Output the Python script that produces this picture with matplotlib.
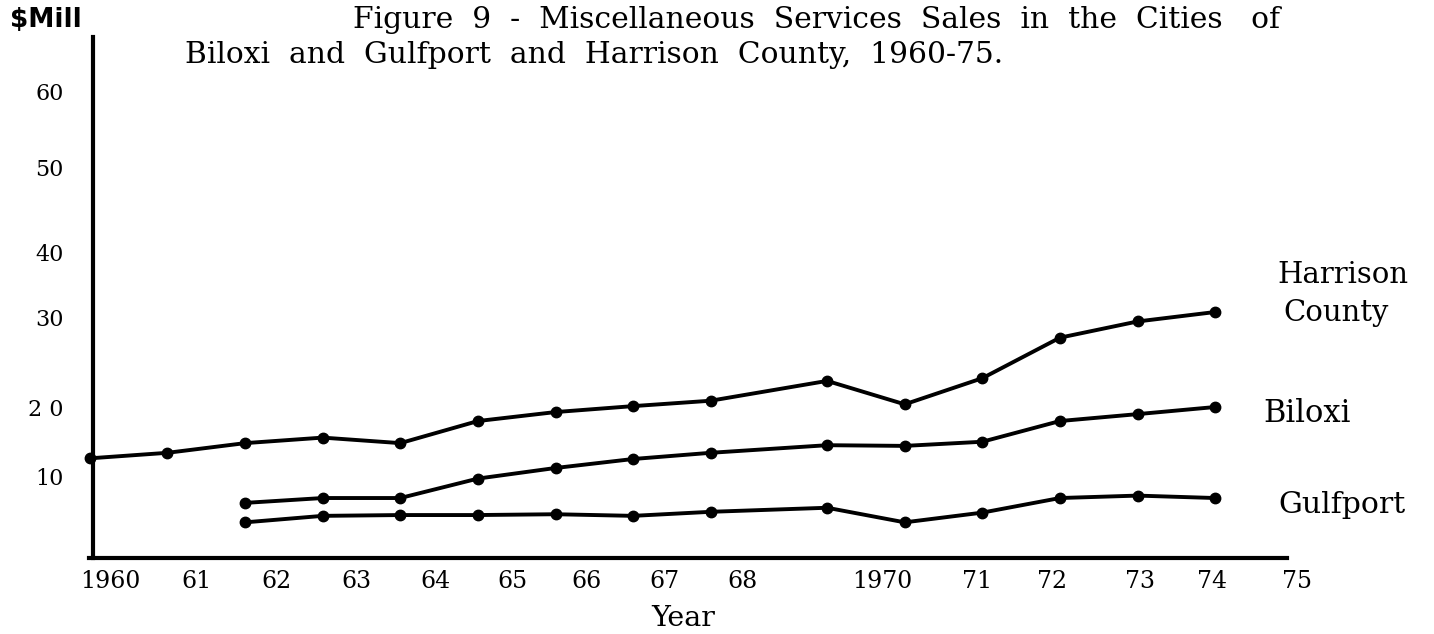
import matplotlib
matplotlib.use("Agg")
import matplotlib.pyplot as plt
import numpy as np

# data ($ millions)
anos_harrison = [1960, 1961, 1962, 1963, 1964, 1965, 1966, 1967, 1968, 1969, 1970, 1971, 1972, 1973, 1974]
harrison = [12.7, 13.5, 14.9, 15.7, 14.9, 18.1, 19.4, 20.2, 20.8, 23.0, 20.4, 23.3, 27.8, 29.6, 30.9]

anos_cidades = [1962, 1963, 1964, 1965, 1966, 1967, 1968, 1969, 1970, 1971, 1972, 1973, 1974]
biloxi = [6.8, 7.4, 7.4, 9.8, 11.3, 12.6, 13.5, 14.6, 14.5, 15.1, 18.1, 19.1, 20.1]
gulfport = [4.4, 5.2, 5.3, 5.3, 5.4, 5.2, 5.7, 6.2, 4.4, 5.6, 7.4, 7.7, 7.4]

rotulos_x = ['1960', '61', '62', '63', '64', '65', '66', '67', '68', '1970', '71', '72', '73', '74', '75']
pos_x = [1960.26, 1961.38, 1962.41, 1963.44, 1964.46, 1965.45, 1966.40, 1967.41, 1968.27,
         1969.71, 1970.93, 1971.90, 1973.03, 1973.96, 1975.05]

valores_y = [10, 20, 30, 40, 50, 60]
rotulos_y = ['10', '2 0', '30', '40', '50', '60']

# the hand drawn axis is not linear: spacing
grade_val = np.array([0, 10, 20, 30, 40, 50, 60, 70])
grade_pos = np.array([76, 157, 226, 316, 381, 466, 542, 618])


def y_ida(v):
    return np.interp(v, grade_val, grade_pos)


def y_volta(u):
    return np.interp(u, grade_pos, grade_val)


# the 1968-69 step is drawn 1.5 years wide
def x_ida(a):
    a = np.asarray(a, dtype=float)
    return a + 0.5 * np.clip(a - 1968, 0, 1)


def x_volta(u):
    u = np.asarray(u, dtype=float)
    return np.where(u <= 1968, u, np.where(u < 1969.5, 1968 + (u - 1968) / 1.5, u - 0.5))


W, H = 1434, 634
fig = plt.figure(figsize=(W / 100, H / 100), dpi=100)
fig.patch.set_facecolor('white')
ax = fig.add_axes([93 / W, 76 / H, (1316 - 93) / W, (597 - 76) / H])

ax.set_xscale('function', functions=(x_ida, x_volta))
ax.set_yscale('function', functions=(y_ida, y_volta))
ax.set_xlim(1960.04, 1975.3)
ax.set_ylim(0, 67.2)

estilo = dict(color='black', lw=2.8, marker='o', ms=7.5, clip_on=False, solid_joinstyle='round')
ax.plot(anos_harrison, harrison, **estilo)
ax.plot(anos_cidades, biloxi, **estilo)
ax.plot(anos_cidades, gulfport, **estilo)

ax.spines['top'].set_visible(False)
ax.spines['right'].set_visible(False)
ax.spines['left'].set_linewidth(3)
ax.spines['bottom'].set_linewidth(3)
ax.spines['bottom'].set_bounds(1959.99, 1974.93)

ax.set_xticks(pos_x)
ax.set_xticklabels(rotulos_x, fontfamily='DejaVu Serif', fontsize=17)
ax.set_yticks(valores_y)
ax.set_yticklabels(rotulos_y, fontfamily='DejaVu Serif', fontsize=16)
ax.tick_params(axis='x', length=0, pad=9)
ax.tick_params(axis='y', length=0, pad=21)
ax.xaxis.set_minor_locator(plt.NullLocator())
ax.yaxis.set_minor_locator(plt.NullLocator())

fig.text(10 / W, 1 - 20 / H, '$Mill', fontfamily='DejaVu Sans', fontweight='bold',
         fontsize=19, va='center', ha='left')
fig.text(353 / W, 1 - 20 / H, 'Figure  9  -  Miscellaneous  Services  Sales  in  the  Cities   of',
         fontfamily='DejaVu Serif', fontsize=21.4, va='center', ha='left')
fig.text(185 / W, 1 - 55 / H, 'Biloxi  and  Gulfport  and  Harrison  County,  1960-75.',
         fontfamily='DejaVu Serif', fontsize=21.4, va='center', ha='left')

fig.text(1277 / W, 1 - 275 / H, 'Harrison', fontfamily='DejaVu Serif', fontsize=21, va='center')
fig.text(1283 / W, 1 - 313 / H, 'County', fontfamily='DejaVu Serif', fontsize=21, va='center')
fig.text(1263 / W, 1 - 413 / H, 'Biloxi', fontfamily='DejaVu Serif', fontsize=22, va='center')
fig.text(1278 / W, 1 - 505 / H, 'Gulfport', fontfamily='DejaVu Serif', fontsize=21.5, va='center')

fig.text(683 / W, 1 - 618 / H, 'Year', fontfamily='DejaVu Serif', fontsize=20.5, va='center', ha='center')

fig.savefig('out.png', dpi=100, facecolor='white')
